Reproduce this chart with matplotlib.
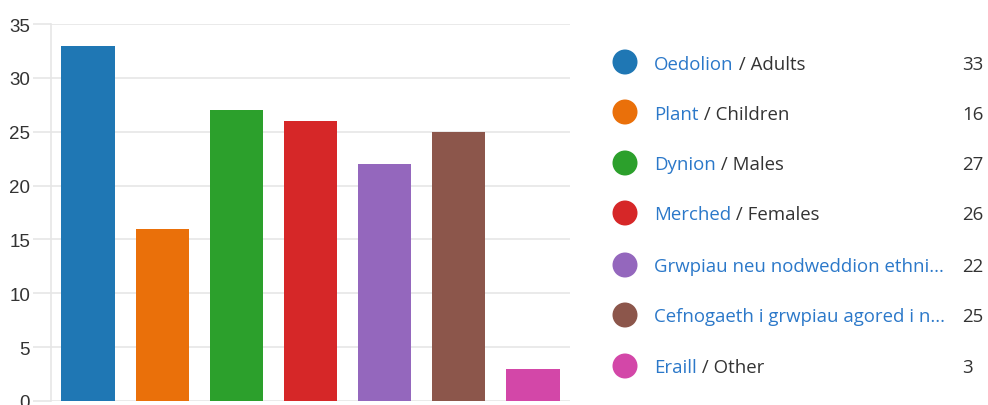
import matplotlib
matplotlib.use("Agg")
import matplotlib.pyplot as plt
from matplotlib.patches import Circle

# Survey responses per group
welsh_labels = ["Oedolion", "Plant", "Dynion", "Merched",
                "Grwpiau neu nodweddion ethni...",
                "Cefnogaeth i grwpiau agored i n...", "Eraill"]
english_labels = ["Adults", "Children", "Males", "Females", "", "", "Other"]
values = [33, 16, 27, 26, 22, 25, 3]
colors = ["#1f77b4", "#ea700a", "#2ca02c", "#d62728",
          "#9467bd", "#8c564b", "#d347a8"]
y_ticks = [0, 5, 10, 15, 20, 25, 30, 35]

W, H = 988, 406
fig = plt.figure(figsize=(W / 100, H / 100), dpi=100)
fig.patch.set_facecolor("white")

ax_left, ax_right = 51 / W, 570 / W
ax_bottom, ax_top = (H - 402) / H, (H - 25) / H
ax = fig.add_axes([ax_left, ax_bottom, ax_right - ax_left, ax_top - ax_bottom])

x = range(len(values))
ax.bar(x, values, width=0.72, color=colors, zorder=3)
ax.set_xlim(-0.5, len(values) - 0.5)
ax.set_ylim(0, 35)
ax.set_yticks(y_ticks)
ax.set_yticklabels([str(v) for v in y_ticks], family="Liberation Sans",
                   fontsize=13.5, color="#333333")
ax.set_xticks([])
ax.grid(axis="y", color="#e6e6e6", linewidth=1.2, zorder=0)
ax.tick_params(axis="y", length=13, width=1.2, color="#e6e6e6", pad=2)
for side in ("top", "right", "bottom"):
    ax.spines[side].set_visible(False)
ax.spines["left"].set_color("#e6e6e6")
ax.spines["left"].set_linewidth(1.2)
ax.set_axisbelow(True)

# Legend with coloured dots, bilingual labels and counts
leg = fig.add_axes([0, 0, 1, 1], facecolor="none")
leg.set_xlim(0, W)
leg.set_ylim(H, 0)
leg.axis("off")

fs = 13.4
row_y = [63, 113, 164, 214, 266, 316, 367]
for yy, w, e, v, c in zip(row_y, welsh_labels, english_labels, values, colors):
    leg.add_patch(Circle((625, yy), 12.5, color=c, ec="none"))
    t1 = leg.text(654, yy + 1.5, w, family="Open Sans", fontsize=fs,
                  color="#2b78c9", va="center", ha="left")
    if e:
        leg.annotate(" / " + e, xy=(1, 0), xycoords=t1,
                     va="bottom", ha="left", family="Open Sans",
                     fontsize=fs, color="#333333")
    leg.text(962, yy + 1.5, str(v), family="Open Sans", fontsize=fs,
             color="#333333", va="center", ha="left")

fig.savefig("out.png", dpi=100, facecolor="white")
